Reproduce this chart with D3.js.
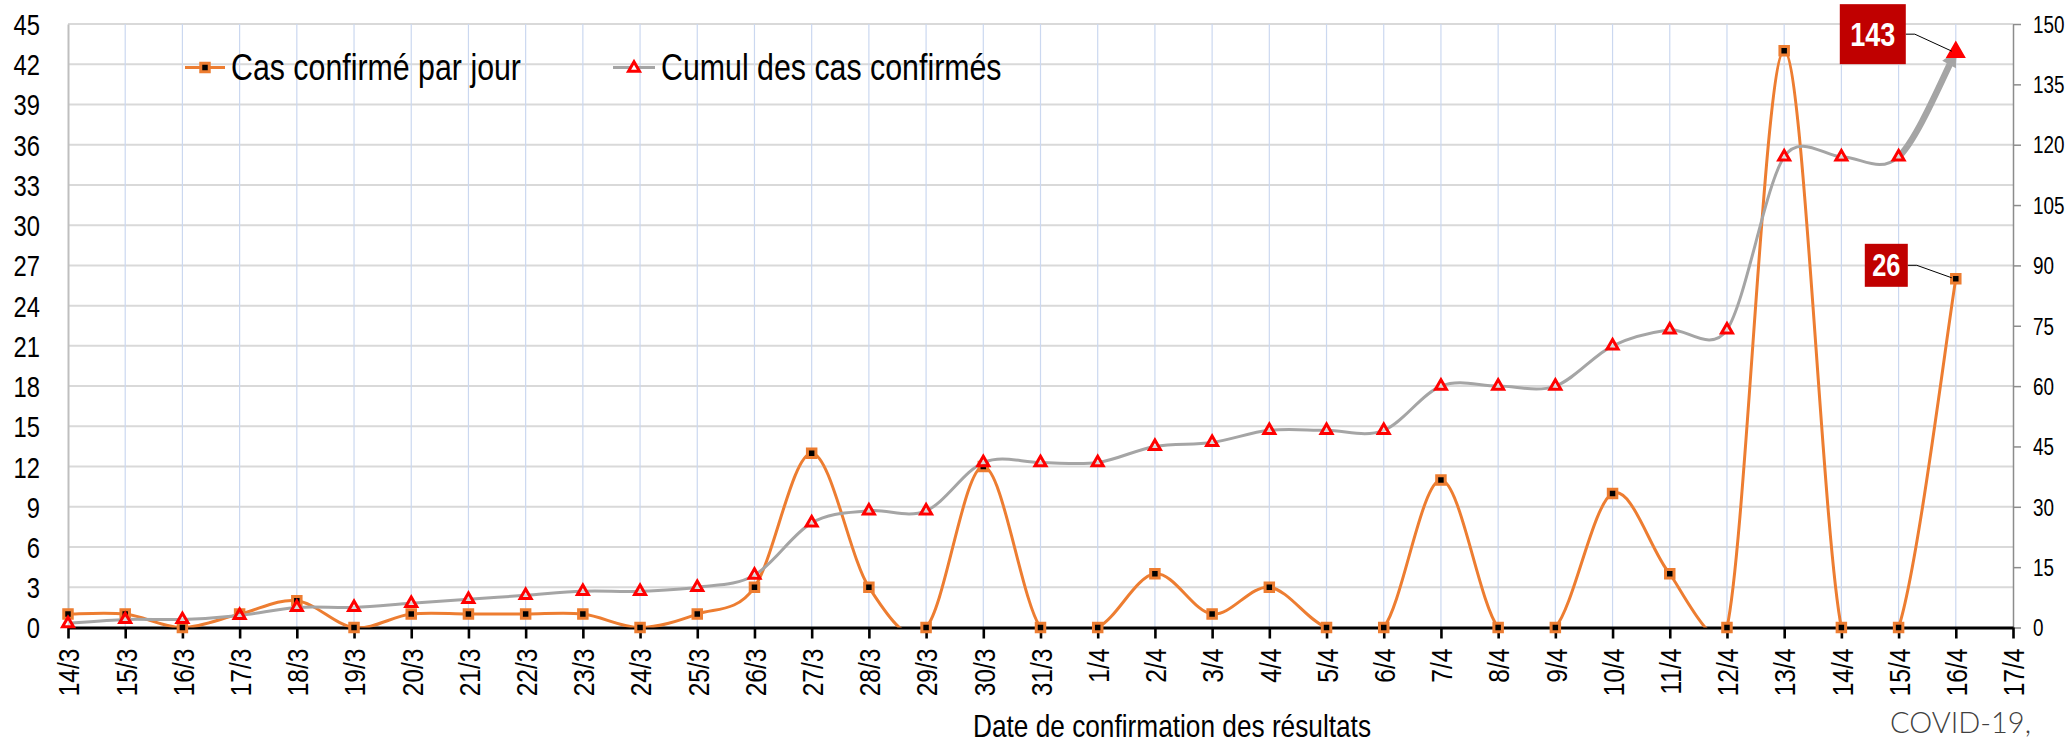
<!DOCTYPE html>
<html><head><meta charset="utf-8">
<script src="https://cdn.jsdelivr.net/npm/d3@7"></script>
<style>html,body{margin:0;padding:0;background:#fff;overflow:hidden}</style>
</head><body><svg id="c" width="2071" height="746"></svg>
<script>
// ---------- data ----------
const dates = ["14/3","15/3","16/3","17/3","18/3","19/3","20/3","21/3","22/3","23/3","24/3","25/3","26/3","27/3","28/3","29/3","30/3","31/3","1/4","2/4","3/4","4/4","5/4","6/4","7/4","8/4","9/4","10/4","11/4","12/4","13/4","14/4","15/4","16/4"];
const axisEndDate = "17/4";
const daily = [1,1,0,1,2,0,1,1,1,1,0,1,3,13,3,0,12,0,0,4,1,3,0,0,11,0,0,10,4,0,43,0,0,26];
const cumul = [1,2,2,3,5,5,6,7,8,9,9,10,13,26,29,29,41,41,41,45,46,49,49,49,60,60,60,70,74,74,117,117,117,143];
const leftTicks = d3.range(0, 46, 3);
const rightTicks = d3.range(0, 151, 15);
const seriesNames = ["Cas confirmé par jour", "Cumul des cas confirmés"];
const xTitle = "Date de confirmation des résultats";
const sourceNote = "COVID-19,";

// ---------- font handling ----------
function hasFont(name){
  const c=document.createElement('canvas').getContext('2d');
  const s='abcdefghijklmnopqrstuvwxyz0123456789ABCDEF';
  c.font='40px monospace'; const a=c.measureText(s).width;
  c.font='40px "'+name+'", monospace'; const b=c.measureText(s).width;
  return Math.abs(a-b)>0.5;
}
const narrowOK = hasFont("Liberation Sans Narrow");
const FONT = narrowOK ? '"Liberation Sans Narrow", "Liberation Sans", Arial, sans-serif' : '"Liberation Sans", Arial, sans-serif';
const SX = narrowOK ? 1 : 0.82;

// ---------- Excel-style smoothed curve (Bezier, 1/6 tension, capped) ----------
function ExcelCurve(context){ this._context=context; }
ExcelCurve.prototype={
  areaStart(){}, areaEnd(){},
  lineStart(){ this._pts=[]; },
  point(x,y){ this._pts.push([+x,+y]); },
  lineEnd(){
    const p=this._pts, c=this._context, n=p.length;
    if(!n) return;
    c.moveTo(p[0][0],p[0][1]);
    if(n===2){ c.lineTo(p[1][0],p[1][1]); return; }
    const dist=(a,b)=>Math.hypot(b[0]-a[0],b[1]-a[1]);
    for(let i=0;i<n-1;i++){
      const P0=p[Math.max(0,i-1)],P1=p[i],P2=p[i+1],P3=p[Math.min(n-1,i+2)];
      const d02=dist(P0,P2), d12=dist(P1,P2), d13=dist(P1,P3);
      const b1=d02/6<d12/2, b2=d13/6<d12/2;
      let f0=1/6,f1=1/6;
      if(b1&&b2){ f0=f1=1/6; }
      else if(!b1&&!b2){ f0=d12/d02/2; f1=d12/d13/2; }
      else if(!b1){ f0=f1=d12/d02/2; }
      else { f0=f1=d12/d13/2; }
      const c1=[P1[0]+(P2[0]-P0[0])*f0, P1[1]+(P2[1]-P0[1])*f0];
      const c2=[P2[0]-(P3[0]-P1[0])*f1, P2[1]-(P3[1]-P1[1])*f1];
      c.bezierCurveTo(c1[0],c1[1],c2[0],c2[1],P2[0],P2[1]);
    }
  }
};
const curveExcel=ctx=>new ExcelCurve(ctx);

// ---------- layout ----------
const W=2071,H=746;
const L=68,R=2013,T=24,B=627.5;
const ORANGE="#ED7D31", GRAY="#A5A5A5", RED="#FF0000", DARKRED="#C00000";

const svg=d3.select("#c");
const x=d3.scalePoint().domain(dates.concat([axisEndDate])).range([L,R]);
const yL=d3.scaleLinear().domain([0,45]).range([B,T]);
const yR=d3.scaleLinear().domain([0,150]).range([B,T]);

const defs=svg.append("defs");
defs.append("clipPath").attr("id","plot").append("rect").attr("x",L).attr("y",T-2).attr("width",R-L).attr("height",B-T+2);
defs.append("clipPath").attr("id","lastseg").append("rect").attr("x",x(dates[dates.length-2])).attr("y",0).attr("width",W).attr("height",B);
defs.append("marker").attr("id","arr").attr("viewBox","0 0 10 10").attr("refX",9).attr("refY",5)
  .attr("markerWidth",2.6).attr("markerHeight",2.4).attr("orient","auto")
  .append("path").attr("d","M0,0 L10,5 L0,10 z").attr("fill",GRAY);

// gridlines
svg.append("g").selectAll("line").data(leftTicks.filter(d=>d>0)).join("line")
  .attr("x1",L).attr("x2",R).attr("y1",d=>yL(d)).attr("y2",d=>yL(d))
  .attr("stroke","#D9D9D9").attr("stroke-width",2);
svg.append("g").selectAll("line").data(x.domain().slice(1,-1)).join("line")
  .attr("x1",d=>x(d)).attr("x2",d=>x(d)).attr("y1",T).attr("y2",B)
  .attr("stroke","#CBD8F0").attr("stroke-width",1.2);

// left axis
const gl=svg.append("g").attr("transform",`translate(${L},0)`)
  .call(d3.axisLeft(yL).tickValues(leftTicks).tickSize(0).tickSizeOuter(0).tickPadding(28));
gl.select(".domain").attr("stroke","#BFBFBF").attr("stroke-width",2);
gl.selectAll(".tick text").attr("x",null).attr("dy","0.36em")
  .attr("transform",`translate(-28,0) scale(${SX},1)`)
  .attr("font-family",FONT).attr("font-size",29).attr("fill","#000").attr("text-anchor","end");

// right axis
const gr=svg.append("g").attr("transform",`translate(${R},0)`)
  .call(d3.axisRight(yR).tickValues(rightTicks).tickSize(8).tickSizeOuter(0).tickPadding(20));
gr.select(".domain").attr("stroke","#8C8C8C").attr("stroke-width",1.5);
gr.selectAll(".tick line").attr("stroke","#8C8C8C").attr("stroke-width",1.5);
gr.selectAll(".tick text").attr("x",null).attr("dy","0.36em")
  .attr("transform",`translate(20,0) scale(${SX},1)`)
  .attr("font-family",FONT).attr("font-size",23).attr("fill","#000").attr("text-anchor","start");

// bottom axis
const gb=svg.append("g").attr("transform",`translate(0,${B})`)
  .call(d3.axisBottom(x).tickSize(11).tickSizeOuter(0));
gb.select(".domain").attr("stroke","#000").attr("stroke-width",3.2);
gb.selectAll(".tick line").attr("stroke","#000").attr("stroke-width",2.6);
gb.selectAll(".tick text").attr("y",null).attr("dy","0.36em")
  .attr("transform",`translate(0,21) rotate(-90) scale(${SX},1)`)
  .attr("text-anchor","end").attr("font-family",FONT).attr("font-size",30).attr("fill","#000");

// curves
const lineD=d3.line().x((d,i)=>x(dates[i])).y(d=>yL(d)).curve(curveExcel);
const lineC=d3.line().x((d,i)=>x(dates[i])).y(d=>yR(d)).curve(curveExcel);

svg.append("path").attr("d",lineD(daily)).attr("fill","none").attr("stroke",ORANGE)
  .attr("stroke-width",3).attr("clip-path","url(#plot)");
const sq=d3.symbol().type(d3.symbolSquare).size(72);
svg.append("g").selectAll("path").data(daily).join("path")
  .attr("transform",(d,i)=>`translate(${x(dates[i])},${yL(d)})`).attr("d",sq)
  .attr("fill","#000").attr("stroke",ORANGE).attr("stroke-width",3);

svg.append("path").attr("d",lineC(cumul)).attr("fill","none").attr("stroke",GRAY)
  .attr("stroke-width",3).attr("clip-path","url(#plot)");
svg.append("g").attr("clip-path","url(#lastseg)").append("path").attr("d",lineC(cumul))
  .attr("fill","none").attr("stroke",GRAY).attr("stroke-width",6.5).attr("marker-end","url(#arr)");
const tri=d3.symbol().type(d3.symbolTriangle).size(52);
const triBig=d3.symbol().type(d3.symbolTriangle).size(120);
const nLast=cumul.length-1;
svg.append("g").selectAll("path").data(cumul).join("path")
  .attr("transform",(d,i)=>`translate(${x(dates[i])},${yR(d)})`)
  .attr("d",(d,i)=>i===nLast?triBig():tri())
  .attr("fill",(d,i)=>i===nLast?RED:"#fff").attr("fill-opacity",(d,i)=>i===nLast?1:0.55)
  .attr("stroke",RED).attr("stroke-width",(d,i)=>i===nLast?2:3).attr("stroke-linejoin","miter");

// data labels for the last points
function callout(px,py,label,bw,bh,dx,dy,fs){
  const bx=px-dx-bw, cy=py-dy;
  svg.append("path").attr("d",`M${bx+bw},${cy} L${bx+bw+9},${cy} L${px-4},${py-1}`)
    .attr("fill","none").attr("stroke","#000").attr("stroke-width",1);
  svg.append("rect").attr("x",bx).attr("y",cy-bh/2).attr("width",bw).attr("height",bh).attr("fill",DARKRED);
  svg.append("text").attr("transform",`translate(${bx+bw/2},${cy}) scale(${SX},1)`)
    .attr("dy","0.36em").attr("text-anchor","middle").attr("font-family",FONT)
    .attr("font-weight","bold").attr("font-size",fs).attr("fill","#fff").text(label);
}
callout(x(dates[nLast]),yR(cumul[nLast]),String(cumul[nLast]),66,60,50,18,33);
callout(x(dates[nLast]),yL(daily[nLast]),String(daily[nLast]),43,43,48,13.5,31);

// legend
const lg=svg.append("g");
lg.append("line").attr("x1",185).attr("x2",225).attr("y1",67.5).attr("y2",67.5).attr("stroke",ORANGE).attr("stroke-width",3);
lg.append("path").attr("transform","translate(205,67.5)").attr("d",sq).attr("fill","#000").attr("stroke",ORANGE).attr("stroke-width",3);
lg.append("text").attr("transform",`translate(231,80) scale(${SX},1)`).attr("font-family",FONT).attr("font-size",37).attr("fill","#000").text(seriesNames[0]);
lg.append("line").attr("x1",613).attr("x2",655).attr("y1",67.5).attr("y2",67.5).attr("stroke",GRAY).attr("stroke-width",3);
lg.append("path").attr("transform","translate(634,68)").attr("d",tri).attr("fill","#fff").attr("stroke",RED).attr("stroke-width",3);
lg.append("text").attr("transform",`translate(661,80) scale(${SX},1)`).attr("font-family",FONT).attr("font-size",37).attr("fill","#000").text(seriesNames[1]);

// axis title and note
svg.append("text").attr("transform",`translate(1172,737) scale(${SX},1)`).attr("text-anchor","middle")
  .attr("font-family",FONT).attr("font-size",32).attr("fill","#000").text(xTitle);
svg.append("text").attr("x",2031).attr("y",733).attr("text-anchor","end")
  .attr("font-family","Lato, 'Open Sans', sans-serif").attr("font-weight",300).attr("font-size",29)
  .attr("fill","#404040").text(sourceNote);
</script></body></html>
